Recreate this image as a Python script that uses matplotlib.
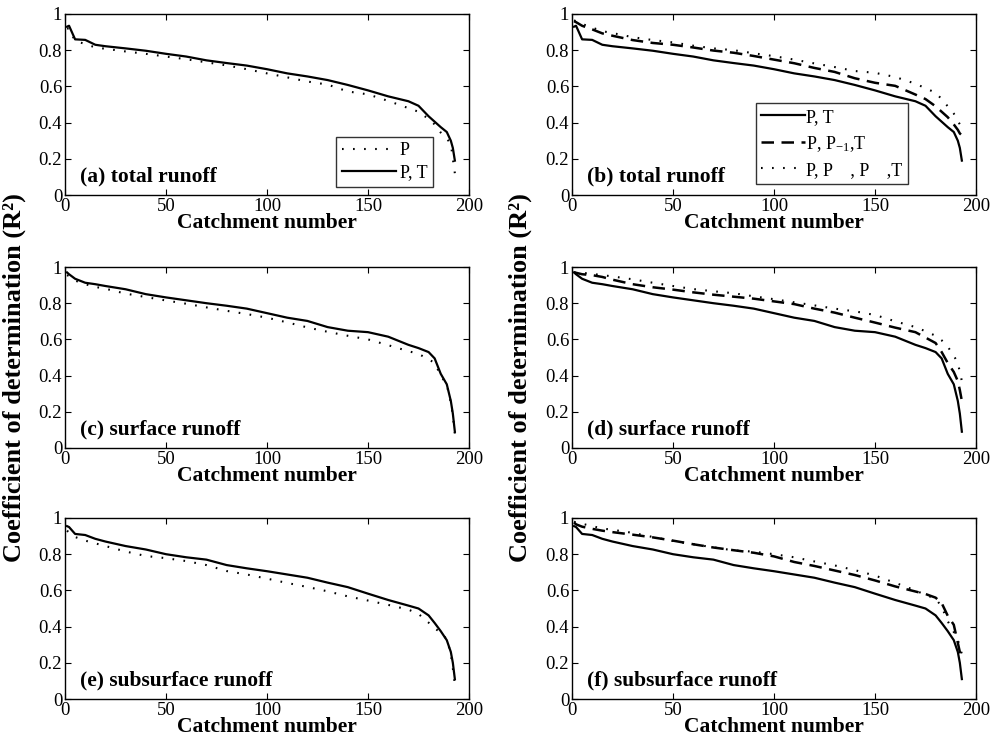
import numpy as np
import matplotlib
matplotlib.use('Agg')
import matplotlib.pyplot as plt

plt.rcParams['font.family'] = 'serif'
plt.rcParams['font.serif'] = ['Liberation Serif', 'DejaVu Serif']
plt.rcParams['mathtext.fontset'] = 'custom'
plt.rcParams['mathtext.rm'] = 'Liberation Serif'
plt.rcParams['mathtext.default'] = 'regular'

# catchment numbers where the sorted R2 curves are sampled
catchment = [1, 2, 5, 10, 15, 20, 30, 40, 50, 60, 70, 80, 90, 100, 110, 120,
             130, 140, 150, 160, 170, 175, 180, 183, 186, 189, 191, 192, 193]

# total runoff
tot_p = [0.92, 0.92, 0.85, 0.835, 0.815, 0.808, 0.793, 0.78, 0.765, 0.75, 0.733, 0.716, 0.695, 0.672, 0.65,
         0.627, 0.61, 0.572, 0.556, 0.52, 0.48, 0.46, 0.42, 0.39, 0.345, 0.31, 0.285, 0.2, 0.12]
tot_pt = [0.93, 0.935, 0.86, 0.857, 0.83, 0.822, 0.81, 0.797, 0.78, 0.765, 0.744, 0.729, 0.715, 0.695, 0.672,
          0.655, 0.635, 0.608, 0.578, 0.545, 0.518, 0.493, 0.435, 0.405, 0.375, 0.348, 0.30, 0.26, 0.19]
tot_pp1t = [0.96, 0.955, 0.935, 0.915, 0.893, 0.88, 0.856, 0.84, 0.83, 0.815, 0.798, 0.786, 0.768, 0.748, 0.728,
            0.702, 0.68, 0.645, 0.62, 0.603, 0.555, 0.53, 0.49, 0.46, 0.43, 0.39, 0.36, 0.34, 0.33]
tot_pp1p2t = [0.965, 0.96, 0.945, 0.925, 0.905, 0.895, 0.872, 0.856, 0.843, 0.825, 0.81, 0.80, 0.783, 0.767, 0.748,
              0.727, 0.707, 0.685, 0.675, 0.652, 0.615, 0.59, 0.565, 0.53, 0.49, 0.45, 0.41, 0.39, 0.37]

# surface runoff
sur_p = [0.955, 0.95, 0.925, 0.905, 0.89, 0.88, 0.853, 0.834, 0.815, 0.797, 0.777, 0.758, 0.74, 0.72, 0.694,
         0.666, 0.642, 0.62, 0.60, 0.568, 0.535, 0.52, 0.49, 0.47, 0.40, 0.35, 0.25, 0.18, 0.08]
sur_pt = [0.97, 0.96, 0.935, 0.913, 0.905, 0.895, 0.877, 0.85, 0.832, 0.816, 0.80, 0.786, 0.77, 0.745, 0.72,
          0.702, 0.668, 0.648, 0.64, 0.615, 0.57, 0.552, 0.53, 0.495, 0.41, 0.352, 0.26, 0.19, 0.09]
sur_pp1t = [0.97, 0.968, 0.96, 0.955, 0.945, 0.93, 0.905, 0.888, 0.875, 0.86, 0.847, 0.836, 0.825, 0.81, 0.795,
            0.77, 0.748, 0.72, 0.693, 0.665, 0.64, 0.61, 0.58, 0.53, 0.47, 0.42, 0.37, 0.32, 0.26]
sur_pp1p2t = [0.97, 0.97, 0.968, 0.962, 0.955, 0.948, 0.932, 0.913, 0.895, 0.878, 0.866, 0.855, 0.838, 0.822, 0.805,
              0.788, 0.77, 0.755, 0.735, 0.70, 0.668, 0.645, 0.62, 0.595, 0.56, 0.51, 0.47, 0.42, 0.37]

# subsurface runoff
sub_p = [0.93, 0.92, 0.895, 0.875, 0.86, 0.845, 0.815, 0.79, 0.778, 0.762, 0.74, 0.707, 0.688, 0.665, 0.641,
         0.619, 0.595, 0.567, 0.544, 0.52, 0.494, 0.47, 0.422, 0.39, 0.368, 0.33, 0.25, 0.17, 0.08]
sub_pt = [0.955, 0.95, 0.912, 0.906, 0.885, 0.87, 0.845, 0.826, 0.80, 0.783, 0.77, 0.74, 0.722, 0.706, 0.688,
          0.67, 0.643, 0.618, 0.582, 0.547, 0.516, 0.50, 0.462, 0.42, 0.375, 0.325, 0.26, 0.20, 0.11]
sub_pp1t = [0.975, 0.965, 0.952, 0.94, 0.93, 0.922, 0.908, 0.893, 0.875, 0.855, 0.837, 0.822, 0.808, 0.788, 0.757,
            0.735, 0.71, 0.685, 0.655, 0.622, 0.594, 0.58, 0.56, 0.53, 0.46, 0.41, 0.31, 0.26, 0.24]
sub_pp1p2t = [0.98, 0.975, 0.968, 0.955, 0.942, 0.935, 0.918, 0.895, 0.873, 0.855, 0.838, 0.821, 0.814, 0.80, 0.783,
              0.76, 0.738, 0.712, 0.682, 0.642, 0.60, 0.575, 0.555, 0.51, 0.43, 0.37, 0.33, 0.28, 0.25]

left_titles = ['(a) total runoff', '(c) surface runoff', '(e) subsurface runoff']
right_titles = ['(b) total runoff', '(d) surface runoff', '(f) subsurface runoff']
left_series = [(tot_p, tot_pt), (sur_p, sur_pt), (sub_p, sub_pt)]
right_series = [(tot_pt, tot_pp1t, tot_pp1p2t), (sur_pt, sur_pp1t, sur_pp1p2t),
                (sub_pt, sub_pp1t, sub_pp1p2t)]

W, H = 990, 740
fig = plt.figure(figsize=(W / 100, H / 100), dpi=100)

dotted = (0, (0.8, 4.5))
dashed = (0, (5, 3))
row_tops = [14, 267, 518]
ax_h = 181
ax_w = 404


def style_axes(ax, title):
    ax.set_xlim(0, 200)
    ax.set_ylim(0, 1)
    ax.set_xticks([0, 50, 100, 150, 200])
    ax.set_yticks([0, 0.2, 0.4, 0.6, 0.8, 1])
    ax.set_yticklabels(['0', '0.2', '0.4', '0.6', '0.8', '1'])
    ax.tick_params(direction='in', top=True, right=True, length=4, width=0.8,
                   labelsize=13.5, pad=2)
    for s in ax.spines.values():
        s.set_linewidth(1.0)
    ax.set_xlabel('Catchment number', fontsize=15.5, fontweight='bold', labelpad=-1)
    ax.text(0.037, 0.075, title, transform=ax.transAxes, fontsize=15.5,
            fontweight='bold', ha='left', va='baseline')


for i in range(3):
    top = row_tops[i]
    axl = fig.add_axes([65 / W, 1 - (top + ax_h) / H, ax_w / W, ax_h / H])
    p, pt = left_series[i]
    axl.plot(catchment, p, color='k', lw=1.5, ls=dotted, label='P')
    axl.plot(catchment, pt, color='k', lw=1.6, label='P, T')
    style_axes(axl, left_titles[i])
    if i == 0:
        leg = axl.legend(loc='lower right', bbox_to_anchor=(0.91, 0.045), fontsize=13,
                         frameon=True, fancybox=False, edgecolor='k', handlelength=3.0,
                         handletextpad=0.2, borderpad=0.3, labelspacing=0.3,
                         borderaxespad=0)
        leg.get_frame().set_linewidth(1.0)

    axr = fig.add_axes([572 / W, 1 - (top + ax_h) / H, ax_w / W, ax_h / H])
    pt, pp1t, pp1p2t = right_series[i]
    axr.plot(catchment, pt, color='k', lw=1.6, label='P, T')
    axr.plot(catchment, pp1t, color='k', lw=1.8, ls=dashed, label='P, P$_{-1}$,T')
    axr.plot(catchment, pp1p2t, color='k', lw=1.5, ls=dotted, label='P, P    , P    ,T')
    style_axes(axr, right_titles[i])
    if i == 0:
        leg = axr.legend(loc='lower left', bbox_to_anchor=(0.455, 0.06), fontsize=13,
                         frameon=True, fancybox=False, edgecolor='k', handlelength=2.4,
                         handletextpad=0.1, borderpad=0.3, labelspacing=0.45,
                         borderaxespad=0)
        leg.get_frame().set_linewidth(1.0)

ylab = 'Coefficient of determination (R²)'
fig.text(0.014, 0.49, ylab, rotation=90, fontsize=19, fontweight='bold',
         ha='center', va='center')
fig.text(0.526, 0.49, ylab, rotation=90, fontsize=19, fontweight='bold',
         ha='center', va='center')

fig.savefig('out.png', dpi=100)
